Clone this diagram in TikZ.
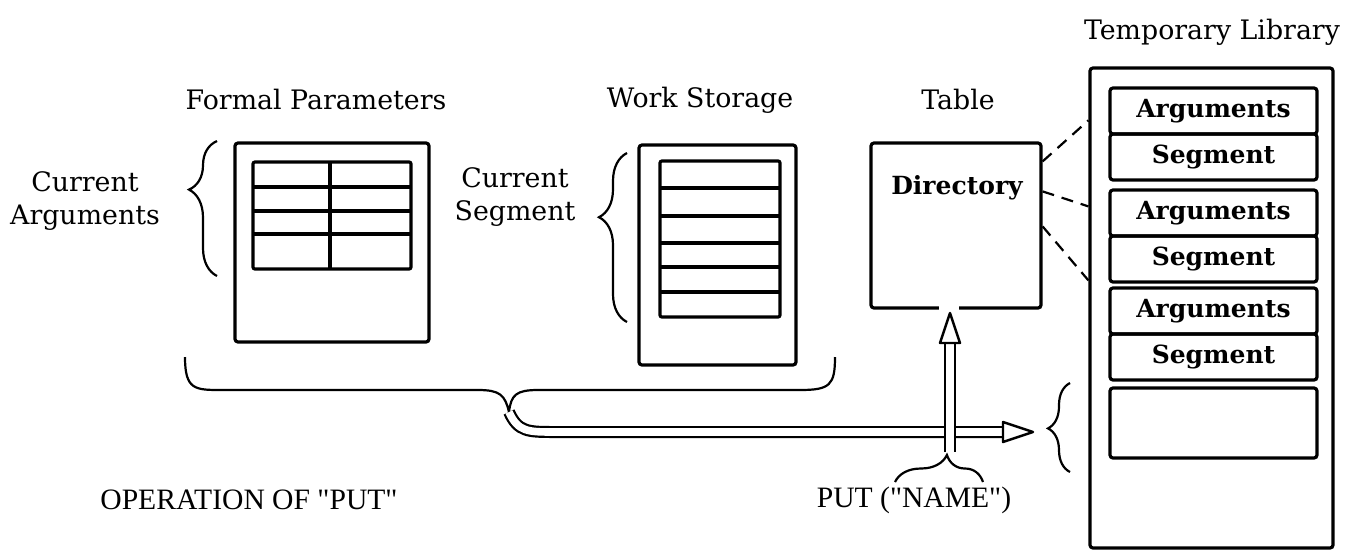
\documentclass[tikz,border=0pt]{standalone}
\usepackage{fontspec}
\setmainfont{DejaVu Serif}
\newfontfamily\capsfont{Liberation Serif}
\usetikzlibrary{arrows.meta,calc,positioning,fit,decorations.pathreplacing}

\begin{document}
\begin{tikzpicture}[x=0.5pt,y=-0.5pt,
  box/.style={draw,line width=1.6pt,rounded corners=1.5pt,inner sep=0pt},
  grid/.style={line width=1.6pt,rounded corners=1pt},
  lbl/.style={font=\fontsize{13.4}{16.5}\selectfont,align=center},
  blbl/.style={font=\bfseries\fontsize{12.5}{15}\selectfont},
  caplbl/.style={font=\capsfont\fontsize{14.8}{17}\selectfont},
  brc/.style={decorate,decoration={brace,amplitude=14pt,aspect=#1},line width=1.1pt},
  dbl/.style={line width=1.1pt,double distance=3.8pt},
  head/.style={line width=1.2pt,fill=white,line join=round},
  link/.style={dash pattern=on 6pt off 4pt,line width=1.1pt}]
  \useasboundingbox (0,0) rectangle (1366,553);

  % headings
  \node[lbl] (tlib) at (1212,32) {Temporary Library};
  \node[lbl] (tfp) at (316,100) {Formal Parameters};
  \node[lbl] (tws) at (700,100) {Work Storage};
  \node[lbl] (ttab) at (958,100) {Table};

  % formal parameters
  \node[box,fit={(235,143) (429,342)}] (fp) {};
  \draw[grid] (253,162) rectangle (411,269);
  \foreach \y in {187,211,234} \draw[line width=1.6pt] (253,\y) -- (411,\y);
  \draw[line width=1.6pt] (330,162) -- (330,269);
  \draw[brc=0.64] (217,276) -- (217,141);
  \node[lbl] (cargs) at (85,201) {Current\\Arguments};

  % work storage
  \node[box,fit={(639,145) (796,365)}] (ws) {};
  \draw[grid] (660,161) rectangle (780,317);
  \foreach \y in {188,216,243,267,292} \draw[line width=1.6pt] (660,\y) -- (780,\y);
  \draw[brc=0.62] (627,322) -- (627,153);
  \node[lbl] (cseg) at (515,197) {Current\\Segment};

  % table
  \node[box,fit={(871,143) (1041,308)}] (tab) {};
  \node[blbl] (dir) at (957,188) {Directory};
  \fill[white] (939,303) rectangle (959,313);

  % temporary library
  \node[box,fit={(1090,68) (1333,548)}] (lib) {};
  \foreach \i/\y in {1/88,2/190,3/288} {
    \node[box,fit={(1110,\y) (1317,\y+46)}] (arg\i) {};
    \node[box,fit={(1110,\y+46) (1317,\y+92)}] (seg\i) {};
    \node[blbl] at (arg\i) {Arguments};
    \node[blbl] at (seg\i) {Segment};
  }
  \node[box,fit={(1110,388) (1317,458)}] (free) {};
  \draw[decorate,decoration={brace,amplitude=11pt,aspect=0.49},line width=1.1pt] (1070,472) -- (1070,383);

  % directory entries
  \draw[link] ([yshift=-10pt]tab.north east) -- ([yshift=-27pt]lib.north west);
  \draw[link] ([yshift=-25pt]tab.north east) -- ([yshift=-70pt]lib.north west);
  \draw[link] ([yshift=-42.5pt]tab.north east) -- ([yshift=-107pt]lib.north west);

  % storage brace and transfer
  \coordinate (split) at (509,412);
  \draw[line width=1.1pt] (185,357) .. controls (185,390) and (195,390) .. (222,390)
    -- (478,390) .. controls (500,390) and (505,395) .. (split)
    .. controls (511,395) and (516,390) .. (538,390)
    -- (800,390) .. controls (830,390) and (835,385) .. (835,357);
  \coordinate (hhead) at (1003,432);
  \draw[dbl] (split) .. controls (518,432) and (528,432) .. (555,432) -- (hhead);
  \draw[head] ($(hhead)+(0,-10)$) -- ($(hhead)+(30,0)$) -- ($(hhead)+(0,10)$) -- cycle;

  % put call
  \coordinate (vbot) at (950,452);
  \coordinate (vhead) at (950,343);
  \coordinate (vtip) at (950,313);
  \draw[dbl] (vbot) -- (vhead);
  \draw[head] ($(vhead)+(-10,0)$) -- (vtip) -- ($(vhead)+(10,0)$) -- cycle;
  \draw[decorate,decoration={brace,amplitude=13.5pt,aspect=0.59},line width=1.1pt] (895,482) -- (983,482);

  \node[caplbl] (putn) at (914,500) {PUT ("NAME")};
  \node[caplbl] (oper) at (249,500) {OPERATION OF "PUT"};
\end{tikzpicture}
\end{document}
